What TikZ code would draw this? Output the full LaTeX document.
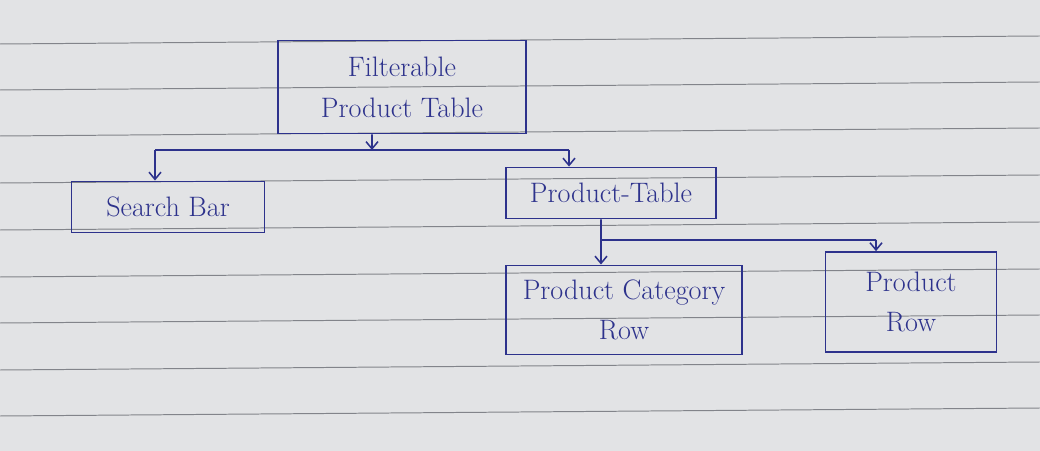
\documentclass[tikz,border=0pt]{standalone}
\usepackage{xcolor}
\usepackage{tikz}
\usetikzlibrary{arrows.meta, positioning, calc}
\definecolor{inkblue}{RGB}{45,50,140}
\definecolor{paper}{RGB}{226,227,229}
\definecolor{ruling}{RGB}{130,132,138}

\begin{document}
\begin{tikzpicture}[
  x=0.025cm, y=-0.025cm,
  comp/.style={draw=inkblue, line width=1.2pt, inner sep=2pt,
               font=\fontsize{20}{29}\selectfont, text=inkblue, align=center},
  arrow/.style={-{Straight Barb[length=1.8mm, width=3mm]}, line width=1.1pt, inkblue},
  link/.style={line width=1.1pt, inkblue},
  rule/.style={ruling, line width=0.7pt},
]

% paper and ruled lines
\fill[paper] (0,0) rectangle (1040,451);
\useasboundingbox (0,0) rectangle (1040,451);
\foreach \y in {44,90,136,183,230,277,323,370,416}
  \draw[rule] (0,\y) -- (1040,\y-8);

\node[comp, minimum width=6.2cm, minimum height=2.33cm] (fpt) at (402,87)
  {Filterable\\Product Table};
\node[comp, minimum width=4.83cm, minimum height=1.28cm] (sb) at (168,207)
  {Search Bar};
\node[comp, minimum width=5.25cm, minimum height=1.28cm] (pt) at (611,193)
  {Product-Table};
\node[comp, minimum width=5.9cm, minimum height=2.23cm] (pcr) at (624,310)
  {Product Category\\Row};
\node[comp, minimum width=4.28cm, minimum height=2.5cm] (pr) at (911,302)
  {Product\\Row};

% first level
\coordinate (j1) at (372,150);
\coordinate (b1l) at (155,150);
\coordinate (b1r) at (569,150);
\draw[arrow] ([xshift=-0.75cm]fpt.south) -- (j1);
\draw[link] (b1l) -- (b1r);
\draw[arrow] (b1l) -- (b1l |- sb.north);
\draw[arrow] (b1r) -- (b1r |- pt.north);

% second level
\coordinate (j2) at (601,240);
\coordinate (b2r) at (876,240);
\draw[link] ([xshift=-0.25cm]pt.south) -- (j2) -- (b2r);
\draw[arrow] (j2) -- (j2 |- pcr.north);
\draw[arrow] (b2r) -- (b2r |- pr.north);

\end{tikzpicture}
\end{document}
